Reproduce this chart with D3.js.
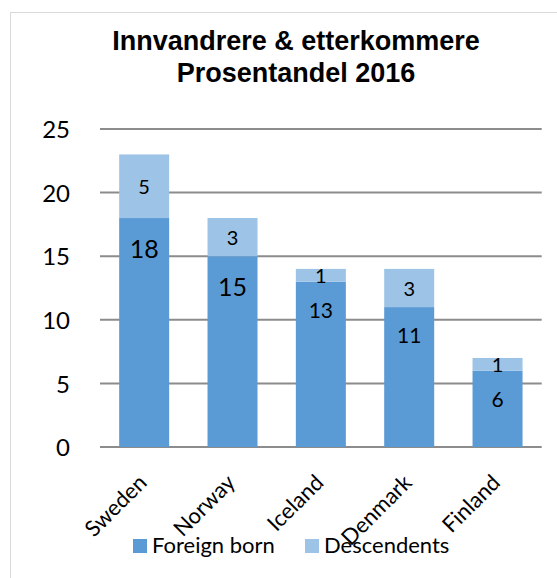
<!DOCTYPE html>
<html lang="no">
<head>
    <meta charset="UTF-8">
    <title>Innvandrere & etterkommere Prosentandel 2016</title>
    <script src="https://d3js.org/d3.v7.min.js"></script>
    <style>
        body { margin: 0; background: #fff; }
        svg { display: block; }
        .title { font-family: "Liberation Sans", Arial, sans-serif; font-weight: bold; font-size: 27px; fill: #000; }
        .tick text, .label, .legend text { font-family: Lato, "Open Sans", sans-serif; fill: #000; }
        .grid line { stroke: #8c8c8c; stroke-width: 2; }
    </style>
</head>
<body>
<svg class="chart" width="557" height="578"></svg>
<script>
    const countries = ["Sweden", "Norway", "Iceland", "Denmark", "Finland"];
    const foreignBorn = [18, 15, 13, 11, 6];
    const descendents = [5, 3, 1, 3, 1];
    const seriesNames = ["Foreign born", "Descendents"];
    const yTicks = [0, 5, 10, 15, 20, 25];

    const colors = ["#5b9bd5", "#9dc3e6"];

    const svg = d3.select(".chart");

    // outer chart border
    svg.append("rect")
        .attr("x", 10.5).attr("y", 12.5)
        .attr("width", 600).attr("height", 600)
        .attr("fill", "none").attr("stroke", "#d9d9d9");

    svg.append("text").attr("class", "title")
        .attr("x", 296).attr("y", 50).attr("text-anchor", "middle")
        .text("Innvandrere & etterkommere");
    svg.append("text").attr("class", "title")
        .attr("x", 296).attr("y", 82).attr("text-anchor", "middle")
        .text("Prosentandel 2016");

    const margin = { left: 100, top: 129 };

    const g = svg.append("g").attr("transform", `translate(${margin.left},${margin.top})`);

    const x = d3.scaleBand().domain(countries).range([0, 441.7]).paddingInner(0.434).paddingOuter(0.217);
    const y = d3.scaleLinear().domain([0, 25]).range([318, 0]);

    // gridlines
    g.append("g").attr("class", "grid")
        .selectAll("line").data(yTicks).join("line")
        .attr("x1", 0).attr("x2", 441.7)
        .attr("y1", d => y(d)).attr("y2", d => y(d));

    // y axis labels
    const yAxis = g.append("g")
        .attr("transform", "translate(-30,0)")
        .call(d3.axisLeft(y).tickValues(yTicks).tickSize(0).tickPadding(0));
    yAxis.select(".domain").remove();
    yAxis.selectAll("text").attr("font-size", 24).attr("dy", "0.36em");

    const rows = countries.map((c, i) => ({ country: c, foreign: foreignBorn[i], desc: descendents[i] }));
    const stacked = d3.stack().keys(["foreign", "desc"])(rows);

    g.selectAll(".series").data(stacked).join("g")
        .attr("class", "series")
        .attr("fill", (d, i) => colors[i])
        .selectAll("rect").data(d => d).join("rect")
        .attr("x", d => x(d.data.country))
        .attr("width", x.bandwidth())
        .attr("y", d => y(d[1]))
        .attr("height", d => y(d[0]) - y(d[1]));

    // foreign born labels, inside end
    g.selectAll(".label-fb").data(rows).join("text")
        .attr("class", "label")
        .attr("x", d => x(d.country) + x.bandwidth() / 2)
        .attr("y", d => y(d.foreign) + (d.foreign >= 15 ? 40 : 36))
        .attr("text-anchor", "middle")
        .attr("font-size", d => d.foreign >= 15 ? 25 : 21)
        .text(d => d.foreign);

    // descendents labels, centred
    g.selectAll(".label-d").data(rows).join("text")
        .attr("class", "label")
        .attr("x", d => x(d.country) + x.bandwidth() / 2)
        .attr("y", d => y(d.foreign + d.desc / 2) + 8)
        .attr("text-anchor", "middle")
        .attr("font-size", 20)
        .text(d => d.desc);

    // x axis labels rotated
    g.selectAll(".xlab").data(countries).join("text")
        .attr("class", "label")
        .attr("font-size", 22)
        .attr("text-anchor", "end")
        .attr("transform", d => `translate(${x(d) + x.bandwidth() / 2 + 4},${y(0) + 37}) rotate(-45)`)
        .text(d => d);

    // legend
    const legend = svg.append("g").attr("class", "legend");
    const legendX = [133, 305];
    seriesNames.forEach((name, i) => {
        legend.append("rect")
            .attr("x", legendX[i]).attr("y", 539)
            .attr("width", 14).attr("height", 14)
            .attr("fill", colors[i]);
        legend.append("text")
            .attr("x", legendX[i] + 19).attr("y", 553)
            .attr("font-size", 22)
            .text(name);
    });
</script>
</body>
</html>
